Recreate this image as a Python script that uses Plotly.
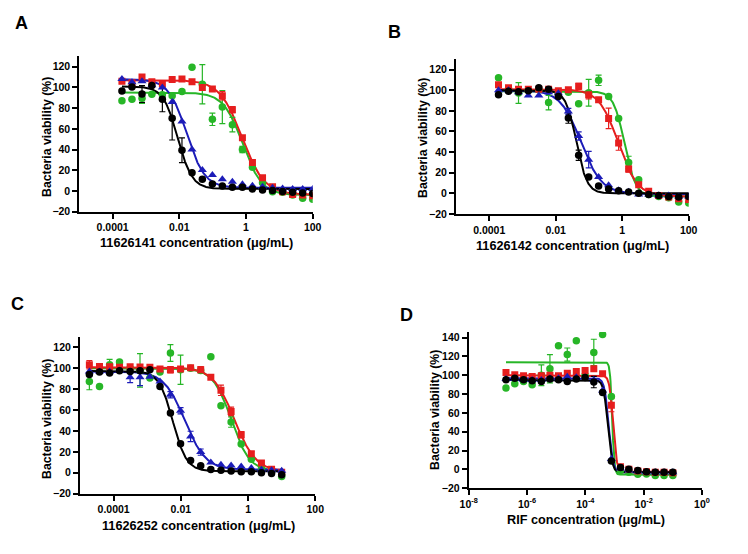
import numpy as np
import plotly.graph_objects as go

# ---------------- data ----------------
conc_AB = [0.00019, 0.00038, 0.00076, 0.0015, 0.0031, 0.0061, 0.012, 0.024, 0.049, 0.098,
           0.195, 0.39, 0.78, 1.56, 3.13, 6.25, 12.5, 25, 50, 100]
conc_C = [0.000019, 0.000038, 0.000076, 0.00015, 0.00031, 0.00061, 0.0012, 0.0024, 0.0049, 0.0098,
          0.0195, 0.039, 0.078, 0.156, 0.313, 0.625, 1.25, 2.5, 5, 10]
conc_D = [1.9e-7, 3.8e-7, 7.6e-7, 1.5e-6, 3.1e-6, 6.1e-6, 1.2e-5, 2.4e-5, 4.9e-5, 9.8e-5,
          0.000195, 0.00039, 0.00078, 0.0016, 0.0031, 0.0063, 0.0125, 0.025, 0.05, 0.1]

# Panel A (11626141)
A_black = [96.5, 100.4, 93.6, 101.7, 88.5, 70.2, 39.3, 17.7, 11.3, 6.8, 4.8, 3.5, 3.5, 2.0, 1.0, 0.5, -0.6, -1.2, -1.9, -2.5]
A_black_err = [0, 0, 8, 0, 12, 21, 12, 0, 0, 0, 0, 0, 0, 0, 0, 0, 0, 0, 0, 0]
A_blue = [108, 105, 106, 102, 100, 86, 67, 40, 20.3, 15.4, 11.3, 9, 6.5, 5, 4, 3, 2.5, 2, 2, 2]
A_blue_err = [0] * 20
A_red = [106, 104.5, 110, 105.5, 103.6, 107.5, 108, 105.5, 100, 98.5, 92, 78.5, 51.5, 27.6, 12.8, 4.2, -0.7, -3.3, -3.9, -4.5]
A_red_err = [0, 0, 0, 0, 0, 0, 0, 0, 0, 0, 4, 3, 0, 0, 0, 0, 0, 0, 0, 0]
A_green = [87.2, 88.5, 89.5, 93.3, 93, 92, 96, 119.4, 103, 69.2, 81, 64, 40, 22.8, 8, -0.7, -1.3, -4, -7, -8]
A_green_err = [0, 0, 5, 0, 0, 0, 0, 0, 19, 6, 16, 7, 3, 0, 0, 0, 0, 0, 0, 0]

# Panel B (11626142)
B_black = [95.7, 99, 98.6, 99.6, 102.5, 101, 94, 73, 36.9, 15.8, 7.1, 4.2, 2.6, 1.3, 0, -1, -2, -3, -3.6, -3]
B_black_err = [0, 0, 0, 0, 0, 0, 0, 5, 5, 0, 0, 0, 0, 0, 0, 0, 0, 0, 0, 0]
B_blue = [100, 100, 98, 95, 95, 98, 97, 79.5, 55.6, 32.7, 15.8, 7.8, 3, 1.5, -1, -1, -2, -2, -3, -3]
B_blue_err = [0, 0, 0, 0, 0, 0, 0, 3, 4, 8, 0, 0, 0, 0, 0, 0, 0, 0, 0, 0]
B_red = [105.4, 102.5, 101, 101, 101, 101, 99.6, 100.5, 103.8, 95.7, 90.8, 72.7, 48.8, 23.6, 8.4, 2, -2, -3.6, -5.2, -6]
B_red_err = [0, 0, 0, 0, 0, 0, 0, 0, 3, 4, 0, 10, 7, 3, 0, 0, 0, 0, 0, 0]
B_green = [112, 101.5, 97.3, 100, 100.5, 88, 97, 98, 87, 97.6, 109.6, 94, 72.7, 30, 13.3, -1, -3, -4.2, -8.4, -9.4]
B_green_err = [0, 0, 10, 0, 0, 7, 0, 0, 0, 13, 5, 0, 0, 6, 0, 0, 0, 0, 0, 0]

# Panel C (11626252)
C_black = [94, 96.5, 95.5, 97.8, 97, 97.8, 98.7, 82.7, 57.2, 27.8, 11.8, 6.7, 3.2, 2.4, 1.8, 1.1, 1.1, 0, -0.6, -1.9]
C_black_err = [0] * 20
C_blue = [97, 97, 97, 98, 91.4, 91.4, 92, 87.5, 74.8, 59.4, 34.8, 19.8, 9.9, 7.7, 7, 6, 4.5, 3, 2.5, 2]
C_blue_err = [0, 0, 0, 0, 5, 8, 0, 0, 3, 3, 5, 3, 0, 0, 0, 0, 0, 0, 0, 0]
C_red = [103.5, 101.8, 101.6, 101, 101.6, 101.3, 101, 99.4, 98.7, 99.4, 100.6, 98.7, 91.4, 79, 58.8, 36.4, 18.2, 9.3, 3.5, 0.6]
C_red_err = [4, 0, 0, 0, 0, 0, 0, 0, 3, 0, 0, 3, 0, 5, 4, 3, 2, 0, 0, 0]
C_green = [87.5, 82.7, 103.5, 106, 100, 98, 90.7, 96.5, 114.7, 98.7, 100, 98, 111, 64.2, 48.6, 27.5, 13, 4, 1, -3.5]
C_green_err = [8, 0, 5, 0, 0, 16, 0, 0, 8, 14, 0, 0, 0, 0, 5, 0, 0, 0, 0, 0]

# Panel D (RIF)
D_black = [95.3, 97, 95.3, 94.2, 93.5, 96, 95.3, 93.5, 96, 97.8, 92.8, 81.8, 9, 2, 0.2, -1.2, -2.3, -3, -3, -3]
D_black_err = [0, 0, 0, 0, 0, 0, 0, 0, 0, 0, 6, 0, 0, 0, 0, 0, 0, 0, 0, 0]
D_blue = [96, 96, 95, 95, 95, 97, 97, 98.6, 98, 98, 95, 84, 11, 1, -1, -2, -3, -3, -3, -3]
D_blue_err = [0, 0, 0, 0, 0, 0, 0, 4, 0, 0, 0, 0, 0, 0, 0, 0, 0, 0, 0, 0]
D_red = [103, 100.6, 99.5, 98.8, 99.5, 100, 99.5, 102.3, 104, 105.2, 107, 101.6, 68.3, 3, 0.2, -1.5, -2.5, -3, -3, -3.5]
D_red_err = [0, 0, 0, 0, 0, 0, 0, 0, 0, 0, 0, 0, 7, 0, 0, 0, 0, 0, 0, 0]
D_green = [86.4, 91, 93.5, 90, 100, 107, 131.5, 122, 136.8, 100, 124.3, 143.4, 77.5, -1, -3, -5, -4.7, -6.5, -6.5, -6.5]
D_green_err = [0, 0, 0, 0, 11, 15, 0, 7, 0, 0, 14, 0, 0, 0, 0, 0, 0, 0, 0, 0]

# four-parameter logistic fits: [top, bottom, logIC50, hill]
A_fit = {"black": [101, 2, -2.05, 2.0], "blue": [108, 3, -1.78, 1.6],
         "red": [107, -3.5, -0.12, 1.3], "green": [95, -4, -0.1, 1.5]}
B_fit = {"black": [100, 0, -1.38, 2.7], "blue": [100, -0.5, -1.24, 1.4],
         "red": [101, -3, -0.12, 1.5], "green": [99, -3, 0.07, 2.6]}
C_fit = {"black": [97.5, 1.5, -2.24, 2.1], "blue": [97, 3, -1.88, 1.4],
         "red": [101, 1, -0.405, 1.36], "green": [100, 1.5, -0.5, 1.6]}
D_fit = {"black": [95, -3, -3.23, 6], "blue": [97, -3, -3.2, 6],
         "red": [100, -2.5, -3.05, 7], "green": [114, -5.5, -3.08, 12]}

x_titles = ["11626141 concentration (\u03bcg/mL)", "11626142 concentration (\u03bcg/mL)",
            "11626252 concentration (\u03bcg/mL)", "RIF concentration (\u03bcg/mL)"]
y_title = "Bacteria viability (%)"
panel_letters = ["A", "B", "C", "D"]
xt_ABC = [0.0001, 0.01, 1, 100]
xt_ABC_text = ["0.0001", "0.01", "1", "100"]
xt_D = [1e-8, 1e-6, 1e-4, 1e-2, 1]
xt_D_text = ["10<sup>-8</sup>", "10<sup>-6</sup>", "10<sup>-4</sup>", "10<sup>-2</sup>", "10<sup>0</sup>"]

# ---------------- style ----------------
W, H = 748, 554
FONT = "Liberation Sans, Arial, sans-serif"
COL = {"black": "#000000", "blue": "#1c1cb8", "red": "#e61e1e", "green": "#27b627"}
SYM = {"black": "circle", "blue": "triangle-up", "red": "square", "green": "circle"}
SIZE = {"black": 7.5, "blue": 8, "red": 7, "green": 7.5}
ORDER = ["green", "red", "blue", "black"]

# pixel boxes: (left, right, top, bottom)
boxes = [(79.3, 312.7, 56.3, 211.7), (456, 688.7, 59.3, 214),
         (80, 315.3, 337, 493.7), (468.7, 702, 332, 488.3)]
xranges = [[-5, 2], [-5, 2], [-5, 2], [-8, 0]]
yranges = [[-20, 130], [-20, 130], [-20, 130], [-20, 146]]

panels = [
    (conc_AB, {"black": (A_black, A_black_err), "blue": (A_blue, A_blue_err),
               "red": (A_red, A_red_err), "green": (A_green, A_green_err)}, A_fit),
    (conc_AB, {"black": (B_black, B_black_err), "blue": (B_blue, B_blue_err),
               "red": (B_red, B_red_err), "green": (B_green, B_green_err)}, B_fit),
    (conc_C, {"black": (C_black, C_black_err), "blue": (C_blue, C_blue_err),
              "red": (C_red, C_red_err), "green": (C_green, C_green_err)}, C_fit),
    (conc_D, {"black": (D_black, D_black_err), "blue": (D_blue, D_blue_err),
              "red": (D_red, D_red_err), "green": (D_green, D_green_err)}, D_fit),
]

fig = go.Figure()

for p, (conc, series, fits) in enumerate(panels):
    xa = "x" if p == 0 else f"x{p+1}"
    ya = "y" if p == 0 else f"y{p+1}"
    lx = np.linspace(np.log10(conc[0]), np.log10(conc[-1]), 400)
    # fitted curves
    for s in ORDER:
        top, bot, c50, h = fits[s]
        yy = bot + (top - bot) / (1 + 10 ** ((lx - c50) * h))
        fig.add_trace(go.Scatter(x=10 ** lx, y=yy, mode="lines", xaxis=xa, yaxis=ya,
                                 line=dict(color=COL[s], width=2), hoverinfo="skip",
                                 showlegend=False))
    # error bars
    for s in ORDER:
        vals, errs = series[s]
        idx = [i for i, e in enumerate(errs) if e > 0]
        if idx:
            fig.add_trace(go.Scatter(x=[conc[i] for i in idx], y=[vals[i] for i in idx],
                                     mode="markers", xaxis=xa, yaxis=ya,
                                     marker=dict(color="rgba(0,0,0,0)", size=1),
                                     error_y=dict(type="data", array=[errs[i] for i in idx],
                                                  color=COL[s], thickness=1.2, width=3),
                                     showlegend=False))
    # markers
    for s in ORDER:
        vals, _ = series[s]
        fig.add_trace(go.Scatter(x=conc, y=vals, mode="markers", xaxis=xa, yaxis=ya,
                                 marker=dict(color=COL[s], symbol=SYM[s], size=SIZE[s],
                                             line=dict(width=0)),
                                 showlegend=False))

layout = dict(template="none", width=W, height=H, margin=dict(l=0, r=0, t=0, b=0, pad=0),
              paper_bgcolor="white", plot_bgcolor="white", showlegend=False,
              font=dict(family=FONT, color="black"))
annotations = []
for p in range(4):
    L, R, T, B = boxes[p]
    xk = "xaxis" if p == 0 else f"xaxis{p+1}"
    yk = "yaxis" if p == 0 else f"yaxis{p+1}"
    xa = "x" if p == 0 else f"x{p+1}"
    ya = "y" if p == 0 else f"y{p+1}"
    tv, tt = (xt_ABC, xt_ABC_text) if p < 3 else (xt_D, xt_D_text)
    common = dict(showline=True, linecolor="black", linewidth=2, ticks="outside", ticklen=5,
                  tickwidth=2, tickcolor="black", showgrid=False, zeroline=False,
                  automargin=False, mirror=False,
                  tickfont=dict(family=FONT, size=10.5, color="black", weight="bold"))
    layout[xk] = dict(domain=[L / W, R / W], anchor=ya, type="log", range=xranges[p],
                      tickvals=tv, ticktext=tt, **common)
    ymax = 120 if p < 3 else 140
    layout[yk] = dict(domain=[1 - B / H, 1 - T / H], anchor=xa, range=yranges[p],
                      tickvals=list(range(-20, ymax + 1, 20)), **common)

# axis titles and panel letters (pixel positions)
xt_pos = [(196, 243), (572, 246), (198, 526), (586, 520)]
yt_pos = [(47, 137), (423, 138), (47, 419), (435, 410)]
let_pos = [(21, 23), (394, 32), (17, 304), (407, 315)]
for p in range(4):
    annotations.append(dict(text=x_titles[p], x=xt_pos[p][0] / W, y=1 - xt_pos[p][1] / H,
                            xref="paper", yref="paper", showarrow=False, xanchor="center",
                            yanchor="middle",
                            font=dict(family=FONT, size=12.7, color="black", weight="bold")))
    annotations.append(dict(text=y_title, x=yt_pos[p][0] / W, y=1 - yt_pos[p][1] / H,
                            xref="paper", yref="paper", showarrow=False, textangle=-90,
                            xanchor="center", yanchor="middle",
                            font=dict(family=FONT, size=12.3, color="black", weight="bold")))
    annotations.append(dict(text=panel_letters[p], x=let_pos[p][0] / W, y=1 - let_pos[p][1] / H,
                            xref="paper", yref="paper", showarrow=False, xanchor="center",
                            yanchor="middle",
                            font=dict(family=FONT, size=18, color="black", weight="bold")))
layout["annotations"] = annotations
fig.update_layout(**layout)
fig.write_html("out.html", config={"displayModeBar": False},
               post_script="document.body.style.margin='0px';document.body.style.padding='0px';")
